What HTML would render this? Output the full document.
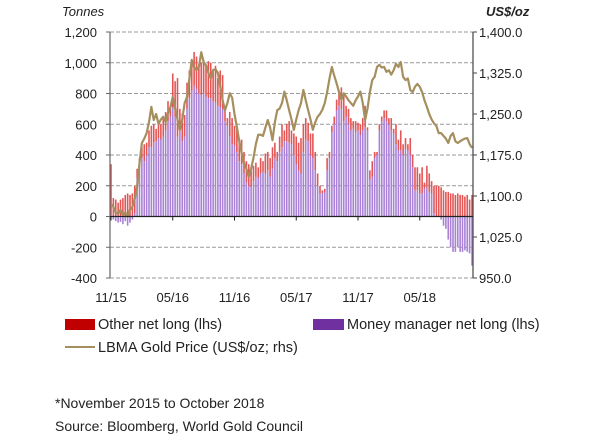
<!DOCTYPE html>
<html><head><meta charset="utf-8"><style>
body{margin:0;background:#fff;width:600px;height:436px;overflow:hidden;font-family:"Liberation Sans",sans-serif}
svg text{font-family:"Liberation Sans",sans-serif;fill:#222}
.lg{position:absolute;font-size:14.5px;color:#222;line-height:16px;white-space:nowrap}
</style></head><body>
<svg id="c" width="600" height="436"></svg>
<script>
const leftTicks=[1200,1000,800,600,400,200,0,-200,-400];
const leftTickLabels=["1,200","1,000","800","600","400","200","0","-200","-400"];
const rightTicks=[1400,1325,1250,1175,1100,1025,950];
const rightTickLabels=["1,400.0","1,325.0","1,250.0","1,175.0","1,100.0","1,025.0","950.0"];
const xTickWeeks=[0,26,52,78,104,130];
const xTickLabels=["11/15","05/16","11/16","05/17","11/17","05/18"];
const moneyManager=[10,-20,-30,-40,-35,-50,-30,-60,-40,-20,
20,250,320,380,360,400,450,450,480,490,
510,500,520,560,620,650,710,650,520,560,
490,520,700,770,820,850,830,800,790,800,
780,770,770,750,740,720,710,700,620,590,
520,470,460,420,360,340,280,220,200,190,
230,260,250,280,290,280,300,260,310,380,
360,420,450,490,490,480,470,400,340,300,
280,420,500,490,400,380,300,200,150,150,
160,300,380,550,600,690,720,700,620,650,
600,560,570,550,560,530,560,580,560,240,
260,380,400,560,620,640,620,600,560,540,
470,430,430,400,440,430,400,320,170,170,
150,150,180,190,160,150,20,0,0,-20,
-60,-80,-150,-200,-230,-230,-200,-230,-230,-220,
-230,-240,-320];
const otherNet=[330,120,110,90,110,120,140,150,140,150,
180,60,60,70,110,80,110,140,120,80,
110,100,120,120,130,70,220,230,380,140,
180,140,170,180,180,220,210,190,210,220,
200,240,230,210,240,180,240,220,80,50,
160,170,130,160,150,160,140,140,140,110,
100,90,70,100,70,130,120,120,140,100,
60,100,150,70,110,140,90,140,180,180,
230,180,140,120,140,160,120,80,50,20,
20,80,40,40,50,70,100,140,170,70,
100,80,50,70,50,70,80,140,20,60,
100,40,20,40,30,50,70,40,80,30,
130,70,130,70,70,40,110,80,150,150,
130,170,40,140,120,80,180,200,200,190,
170,160,160,150,150,140,150,140,140,130,
140,110,140];
const goldPrice=[1085,1080,1070,1068,1075,1065,1070,1062,1075,1080,1095,
1117,1160,1197,1205,1215,1235,1263,1239,1250,1232,1240,1245,1235,1252,1262,1281,1260,1240,1221,1240,1270,1281,1315,1349,1335,1330,1336,1363,1345,1339,1325,1315,1330,1332,1325,1300,1275,1257,1270,1288,1280,1250,1226,1200,1179,1160,1150,1135,1150,1170,1195,1212,1212,1210,1225,1239,1225,1202,1235,1257,1260,1270,1291,1275,1257,1240,1221,1240,1257,1270,1294,1275,1257,1240,1221,1235,1245,1250,1258,1270,1290,1315,1336,1320,1306,1290,1276,1288,1282,1275,1270,1265,1275,1282,1291,1270,1239,1260,1290,1312,1318,1336,1340,1335,1336,1327,1330,1322,1330,1342,1336,1345,1318,1312,1315,1294,1290,1300,1305,1300,1290,1275,1263,1250,1240,1233,1228,1215,1215,1210,1205,1197,1210,1215,1200,1197,1200,1203,1205,1206,1195,1188];

const NS="http://www.w3.org/2000/svg";
const svg=document.getElementById('c');
const X0=110,X1=473,Y0=32,Y1=278;
const nW=goldPrice.length;
const xs=i=>X0+1+i*(X1-X0-2)/(nW-1);
const yL=v=>Y0+(1200-v)*(Y1-Y0)/1600;
const yR=v=>Y0+(1400-v)*(Y1-Y0)/450;
function mk(t,a,p){const e=document.createElementNS(NS,t);for(const k in a)e.setAttribute(k,a[k]);(p||svg).appendChild(e);return e;}

const grid=mk('g',{});


leftTicks.forEach(v=>{if(v!==0)mk('line',{x1:X0,x2:X1,y1:yL(v),y2:yL(v),stroke:'#999','stroke-width':1,'stroke-dasharray':'4,2'},grid);});

const bars=mk('g',{});


for(let i=0;i<nW;i++){
  const m=moneyManager[i],o=otherNet[i],x=xs(i)-0.8;
  const r=mk('rect',{x:x,width:1.6,y:Math.min(yL(0),yL(m)),height:Math.abs(yL(m)-yL(0)),fill:'#a982d6'},bars);
  
  
  const base=Math.max(m,0);
  const r2=mk('rect',{x:x,width:1.6,y:yL(base+o),height:yL(base)-yL(base+o),fill:'#e25656'},bars);
  
  
}

const ln=mk('polyline',{points:goldPrice.map((v,i)=>xs(i)+','+yR(v)).join(' '),fill:'none',stroke:'#a58f5f','stroke-width':2.2,'stroke-linejoin':'round'});



const ax=mk('g',{});


mk('line',{x1:X0,x2:X0,y1:Y0,y2:Y1,stroke:'#666','stroke-width':1.2},ax);
mk('line',{x1:X1,x2:X1,y1:Y0,y2:Y1,stroke:'#444','stroke-width':1.2},ax);
mk('line',{x1:X0,x2:X1,y1:yL(0),y2:yL(0),stroke:'#222','stroke-width':1.2},ax);
leftTicks.forEach((v,k)=>{
  mk('line',{x1:X0-4,x2:X0,y1:yL(v),y2:yL(v),stroke:'#666'},ax);
  const t=mk('text',{x:97,y:yL(v)+5,'text-anchor':'end','font-size':13},ax);t.textContent=leftTickLabels[k];
  
  
});
rightTicks.forEach((v,k)=>{
  mk('line',{x1:X1,x2:X1+4,y1:yR(v),y2:yR(v),stroke:'#444'},ax);
  const t=mk('text',{x:479,y:yR(v)+5,'font-size':13},ax);t.textContent=rightTickLabels[k];
  
  
});
xTickWeeks.forEach((w,k)=>{
  mk('line',{x1:xs(w),x2:xs(w),y1:yL(0),y2:yL(0)+4,stroke:'#222'},ax);
  const t=mk('text',{x:xs(w),y:302,'text-anchor':'middle','font-size':13},ax);t.textContent=xTickLabels[k];
  
  
});
</script>
<div style="position:absolute;left:62px;top:4px;font-size:13px;font-style:italic;color:#222">Tonnes</div>
<div style="position:absolute;left:486px;top:4px;font-size:13px;font-style:italic;font-weight:bold;color:#222">US$/oz</div>
<div class="lg" style="left:65px;top:317px"><span style="display:inline-block;width:30px;height:11px;background:#c00000;vertical-align:-1px;margin-right:3px"></span>Other net long (lhs)</div>
<div class="lg" style="left:313px;top:317px"><span style="display:inline-block;width:31px;height:11px;background:#7030a0;vertical-align:-1px;margin-right:3px"></span>Money manager net long (lhs)</div>
<div class="lg" style="left:65px;top:340px"><span style="display:inline-block;width:30px;height:2px;background:#a58f5f;vertical-align:4px;margin-right:3px"></span>LBMA Gold Price (US$/oz; rhs)</div>
<div class="lg" style="left:55px;top:395px;font-size:14px">*November 2015 to October 2018</div>
<div class="lg" style="left:55px;top:418px;font-size:14px">Source: Bloomberg, World Gold Council</div>
</body></html>
